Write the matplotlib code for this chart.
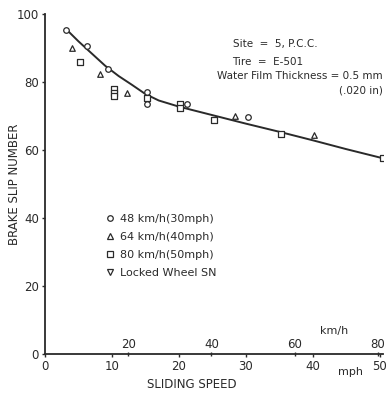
import numpy as np
import matplotlib
matplotlib.use("Agg")
import matplotlib.pyplot as plt
from matplotlib.lines import Line2D

# measured points, sliding speed (mph) vs brake slip number
mph_48 = [3.2, 6.3, 9.4, 15.2, 15.2, 21.2, 30.3]
sn_48 = [95.3, 90.6, 84.0, 77.2, 73.5, 73.7, 69.6]

mph_64 = [4.1, 8.2, 12.2, 28.4, 40.2]
sn_64 = [89.9, 82.5, 76.9, 70.0, 64.4]

mph_80 = [5.2, 10.3, 10.3, 10.3, 15.2, 20.1, 20.1, 25.3, 35.3, 50.5]
sn_80 = [85.8, 78.1, 76.9, 76.0, 75.2, 73.7, 72.5, 68.8, 64.7, 57.8]

# faired curve
curve_mph = [3.2, 5, 7, 9, 11, 13, 15, 17, 20, 25, 30, 35, 40, 45, 50.5]
curve_sn = [95.5, 92.0, 88.4, 84.8, 81.8, 79.2, 76.5, 74.6, 72.8, 70.3, 67.8, 65.4, 62.9, 60.3, 57.6]

mph_ticks = [0, 10, 20, 30, 40, 50]
kmh_ticks = [20, 40, 60, 80]
sn_ticks = [0, 20, 40, 60, 80, 100]

legend_labels = ["48 km/h(30mph)", "64 km/h(40mph)", "80 km/h(50mph)", "Locked Wheel SN"]

ink = "#2a2a2a"
plt.rcParams["font.family"] = ["DejaVu Sans"]

fig = plt.figure(figsize=(3.88, 3.93), dpi=100)
ax = fig.add_axes([0.116, 0.099, 0.871, 0.865])

ax.plot(curve_mph, curve_sn, color=ink, lw=1.4, zorder=2)
mk = dict(facecolors="white", edgecolors=ink, linewidths=0.9, s=16, zorder=3)
ax.scatter(mph_48, sn_48, marker="o", **mk)
ax.scatter(mph_64, sn_64, marker="^", **mk)
ax.scatter(mph_80, sn_80, marker="s", **mk)

ax.set_xlim(0, 50.5)
ax.set_ylim(0, 100)
ax.set_xticks(mph_ticks)
ax.set_yticks(sn_ticks)
for s in ["top", "right"]:
    ax.spines[s].set_visible(False)
for s in ["left", "bottom"]:
    ax.spines[s].set_color(ink)
    ax.spines[s].set_linewidth(1.3)
ax.tick_params(axis="both", colors=ink, labelsize=8.5, length=2.5, width=1)
ax.tick_params(axis="x", pad=1.5)
ax.tick_params(axis="y", pad=2)

# km/h scale on the same baseline, labels above
sec = ax.secondary_xaxis(0.0, functions=(lambda v: v * 1.609344, lambda v: v / 1.609344))
sec.set_alignment("top")
sec.set_xticks(kmh_ticks)
sec.tick_params(colors=ink, labelsize=8.5, length=3, width=1, direction="inout", pad=0.5)
for s in sec.spines.values():
    s.set_visible(False)

ax.set_ylabel("BRAKE SLIP NUMBER", color=ink, fontsize=8.5)
ax.set_xlabel("SLIDING SPEED", color=ink, fontsize=8.5)
ax.xaxis.set_label_coords(0.435, -0.07)
ax.yaxis.set_label_coords(-0.072, 0.50)

ax.text(0.855, 0.06, "km/h", transform=ax.transAxes, color=ink, fontsize=8, ha="center")
ax.text(0.905, -0.062, "mph", transform=ax.transAxes, color=ink, fontsize=8, ha="center")

ax.text(0.68, 0.912, "Site  =  5, P.C.C.", transform=ax.transAxes, color=ink, fontsize=7.5,
        ha="center", va="center")
ax.text(0.66, 0.859, "Tire  =  E-501", transform=ax.transAxes, color=ink, fontsize=7.5,
        ha="center", va="center")
ax.text(1.0, 0.818, "Water Film Thickness = 0.5 mm", transform=ax.transAxes, color=ink,
        fontsize=7.5, ha="right", va="center")
ax.text(1.0, 0.776, "(.020 in)", transform=ax.transAxes, color=ink, fontsize=7.5,
        ha="right", va="center")

handles = [Line2D([], [], ls="none", marker=m, mfc="white", mec=ink, mew=0.9, ms=4)
           for m in ["o", "^", "s", "v"]]
ax.legend(handles, legend_labels, loc="upper left", bbox_to_anchor=(0.165, 0.425), frameon=False,
          fontsize=8, handlelength=0.8, handletextpad=0.5, labelspacing=0.72, labelcolor=ink,
          borderaxespad=0)

fig.savefig("out.png", dpi=100)
